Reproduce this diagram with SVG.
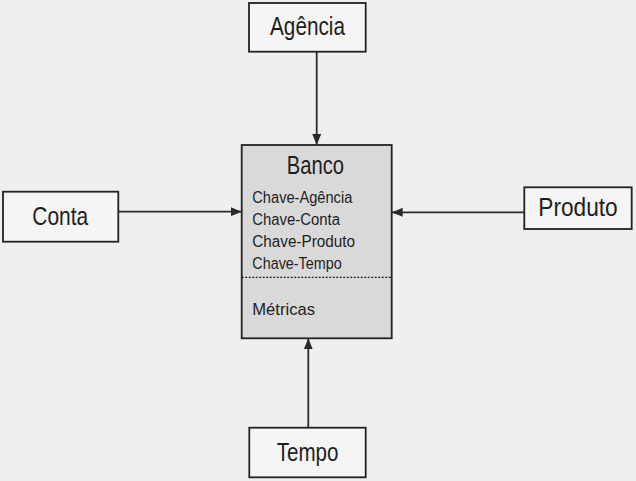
<svg xmlns="http://www.w3.org/2000/svg" width="636" height="481" viewBox="0 0 636 481">
<style>
.box{fill:#f5f5f5;stroke:#222;stroke-width:1.8}
.main{fill:#d9d9d9;stroke:#222;stroke-width:1.8}
.lbl{font-family:"Liberation Sans","DejaVu Sans",sans-serif;font-size:26px;fill:#1e1e1e}
.attr{font-family:"Liberation Sans","DejaVu Sans",sans-serif;font-size:16px;fill:#1e1e1e}
.conn{stroke:#2a2a2a;stroke-width:1.8;fill:none;marker-end:url(#arr)}
</style>
<defs>
<marker id="arr" markerUnits="userSpaceOnUse" markerWidth="11" markerHeight="9" refX="11" refY="4.5" orient="auto">
<path d="M0,0 L11,4.5 L0,9 Z" fill="#2a2a2a"/>
</marker>
</defs>
<rect x="0" y="0" width="636" height="481" fill="#efefef"/>
<g id="connectors">
<line class="conn" x1="316.7" y1="52" x2="316.7" y2="145"/>
<line class="conn" x1="118.3" y1="211.7" x2="241.7" y2="211.7"/>
<line class="conn" x1="524.3" y1="212.3" x2="391.7" y2="212.3"/>
<line class="conn" x1="308.3" y1="427.7" x2="308.3" y2="338.3"/>
</g>
<g id="banco">
<rect class="main" x="241.7" y="145" width="150" height="193.3"/>
<line x1="241.7" y1="277.3" x2="391.7" y2="277.3" stroke="#222" stroke-width="1.3" stroke-dasharray="2,1.5"/>
<text class="lbl" x="286.7" y="174" textLength="57.3" lengthAdjust="spacingAndGlyphs">Banco</text>
<text class="attr" x="252.3" y="203.3" textLength="100" lengthAdjust="spacingAndGlyphs">Chave-Agência</text>
<text class="attr" x="252.3" y="225.3" textLength="87.7" lengthAdjust="spacingAndGlyphs">Chave-Conta</text>
<text class="attr" x="252.3" y="247" textLength="102.7" lengthAdjust="spacingAndGlyphs">Chave-Produto</text>
<text class="attr" x="252.3" y="268.7" textLength="89.4" lengthAdjust="spacingAndGlyphs">Chave-Tempo</text>
<text class="attr" x="252.3" y="315" textLength="62.7" lengthAdjust="spacingAndGlyphs">Métricas</text>
</g>
<g id="agencia">
<rect class="box" x="249" y="3" width="116.7" height="48.7"/>
<text class="lbl" x="270" y="35" textLength="75" lengthAdjust="spacingAndGlyphs">Agência</text>
</g>
<g id="conta">
<rect class="box" x="3" y="191.7" width="115.3" height="50"/>
<text class="lbl" x="32.3" y="225" textLength="56" lengthAdjust="spacingAndGlyphs">Conta</text>
</g>
<g id="produto">
<rect class="box" x="524.3" y="187.3" width="107.4" height="41.7"/>
<text class="lbl" x="538.3" y="216" textLength="79.4" lengthAdjust="spacingAndGlyphs">Produto</text>
</g>
<g id="tempo">
<rect class="box" x="249.3" y="427.7" width="116.4" height="49.6"/>
<text class="lbl" x="276.7" y="460.7" textLength="61.7" lengthAdjust="spacingAndGlyphs">Tempo</text>
</g>
</svg>
